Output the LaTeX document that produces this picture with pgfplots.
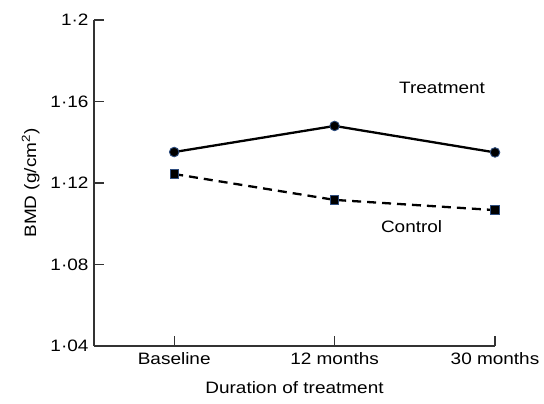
\documentclass[border=0pt]{standalone}
\usepackage{fontspec}
\setmainfont{Liberation Sans}[FakeStretch=1.15]
\usepackage{pgfplots}
\pgfplotsset{compat=1.18}
\definecolor{markedge}{HTML}{2E4D7E}

\begin{document}
\begin{tikzpicture}
\begin{axis}[
  name=ax,
  scale only axis,
  width=401pt, height=326pt,
  xmin=-0.5, xmax=2,
  ymin=1.04, ymax=1.2,
  axis lines=left,
  axis line style={-, line width=1.1pt, black!80},
  tick align=inside,
  major tick length=10pt,
  tick style={line width=1.1pt, black!80},
  xtick={0,1,2},
  xticklabels={Baseline,12 months,30 months},
  ytick={1.04,1.08,1.12,1.16,1.2},
  yticklabels={1·04,1·08,1·12,1·16,1·2},
  tick label style={font=\fontsize{16.5}{19}\selectfont},
  xticklabel style={yshift=-3pt},
  yticklabel style={xshift=-2pt},
  label style={font=\fontsize{16.5}{19}\selectfont},
  xlabel={Duration of treatment},
  ylabel={BMD (g/cm\textsuperscript{2})},
  xlabel style={yshift=-10pt},
  ylabel style={yshift=4pt},
  clip=false,
]
\addplot[black, line width=2.3pt, mark=*,
  mark options={solid, fill=black, draw=markedge, line width=0.9pt, scale=2.4}]
  coordinates {(0,1.1352)(1,1.1480)(2,1.1350)};
\addplot[black, line width=2.3pt, dash pattern=on 9pt off 6pt, mark=square*,
  mark options={solid, fill=black, draw=markedge, line width=0.9pt, scale=2.1}]
  coordinates {(0,1.1244)(1,1.1117)(2,1.1067)};
\node[font=\fontsize{16.5}{19}\selectfont] at (axis cs:1.67,1.1666) {Treatment};
\node[font=\fontsize{16.5}{19}\selectfont] at (axis cs:1.48,1.0984) {Control};
\end{axis}
\path ([xshift=-94pt,yshift=-57pt]ax.south west) rectangle ([xshift=49pt,yshift=20pt]ax.north east);
\end{tikzpicture}
\end{document}
